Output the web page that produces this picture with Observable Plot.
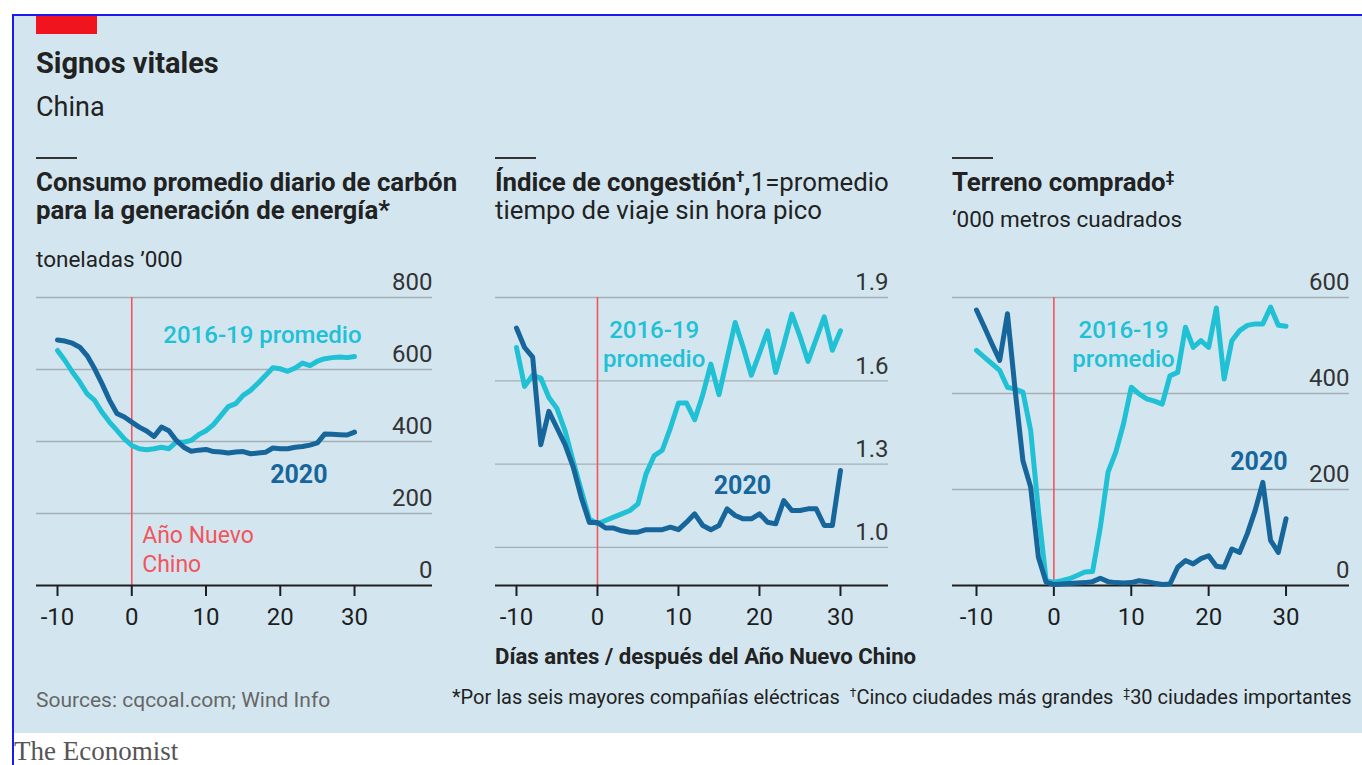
<!DOCTYPE html>
<html><head><meta charset="utf-8">
<script src="https://cdn.jsdelivr.net/npm/d3@7"></script>
<script src="https://cdn.jsdelivr.net/npm/@observablehq/plot@0.6"></script>
<style>
body{margin:0;width:1362px;height:765px;background:#fff;position:relative;overflow:hidden;font-family:Roboto,sans-serif;color:#222;}
.t{position:absolute;white-space:nowrap;line-height:1;}
.rule{position:absolute;height:2px;width:41px;background:#333;}
sup{font-size:0.6em;vertical-align:0.6em;line-height:0;}
</style></head><body>
<div style="position:absolute;left:12px;top:14px;width:1350px;height:751px;border-top:2px solid #1a1aee;border-left:2px solid #1a1aee;"></div>
<div style="position:absolute;left:14px;top:16px;width:1348px;height:717px;background:#d3e6f0;"></div>
<div style="position:absolute;left:36px;top:16px;width:61px;height:18px;background:#f0141e;"></div>
<div class="t" style="left:36px;top:49px;font-size:29px;font-weight:700;">Signos vitales</div>
<div class="t" style="left:36px;top:94px;font-size:27px;">China</div>

<div class="rule" style="left:36px;top:157px;"></div>
<div class="rule" style="left:495px;top:157px;"></div>
<div class="rule" style="left:952px;top:157px;"></div>
<div class="t" style="left:36px;top:168px;font-size:25.8px;line-height:28px;font-weight:700;">Consumo promedio diario de carbón<br>para la generación de energía*</div>
<div class="t" style="left:36px;top:248px;font-size:22.5px;">toneladas ’000</div>
<div class="t" style="left:495px;top:168px;font-size:25.8px;line-height:28px;"><b>Índice de congestión<sup>†</sup>,</b>1=promedio<br>tiempo de viaje sin hora pico</div>
<div class="t" style="left:952px;top:168px;font-size:25.8px;line-height:28px;font-weight:700;">Terreno comprado<sup>‡</sup></div>
<div class="t" style="left:952px;top:208px;font-size:22.5px;">‘000 metros cuadrados</div>

<div class="t" style="left:495px;top:645px;font-size:22.2px;font-weight:700;">Días antes / después del Año Nuevo Chino</div>
<div class="t" style="left:36px;top:690px;font-size:21px;color:#666;">Sources: cqcoal.com; Wind Info</div>
<div class="t" style="left:452px;top:687px;font-size:20px;">*Por las seis mayores compañías eléctricas &nbsp;<sup>†</sup>Cinco ciudades más grandes &nbsp;<sup>‡</sup>30 ciudades importantes</div>
<div class="t" style="left:14px;top:738px;font-size:27px;color:#555;font-family:'Liberation Serif',serif;">The Economist</div>

<script>
// Days before/after Chinese New Year
const days = [-10,-9,-8,-7,-6,-5,-4,-3,-2,-1,0,1,2,3,4,5,6,7,8,9,10,11,12,13,14,15,16,17,18,19,20,21,22,23,24,25,26,27,28,29,30];
const xTicks = [-10, 0, 10, 20, 30];

// Coal consumption, tonnes '000
const coalAvg = [653,625,593,565,532,514,481,454,431,407,389,380,377,380,384,380,398,398,403,419,430,447,472,497,505,528,542,562,583,605,602,595,604,618,611,623,630,633,635,633,636];
const coal2020 = [682,679,673,662,638,602,560,515,478,468,454,440,429,414,440,430,403,384,373,376,378,372,371,368,371,372,366,368,370,382,380,380,384,386,390,396,421,420,419,418,426];
const coalTicks = [0, 200, 400, 600, 800];

// Congestion index
const congAvg = [1.72,1.58,1.62,1.61,1.54,1.50,1.42,1.31,1.205,1.103,1.085,1.097,1.109,1.121,1.133,1.157,1.265,1.33,1.35,1.43,1.52,1.52,1.46,1.55,1.66,1.55,1.68,1.81,1.72,1.62,1.70,1.78,1.63,1.73,1.84,1.76,1.67,1.75,1.83,1.71,1.78];
const cong2020 = [1.79,1.72,1.685,1.37,1.49,1.43,1.37,1.29,1.18,1.09,1.09,1.07,1.07,1.06,1.055,1.055,1.064,1.064,1.064,1.073,1.064,1.091,1.121,1.079,1.064,1.079,1.139,1.115,1.103,1.103,1.121,1.091,1.085,1.169,1.133,1.133,1.139,1.139,1.079,1.079,1.277];
const congTicks = [1.0, 1.3, 1.6, 1.9];

// Land purchased, '000 square metres
const landAvg = [490,476,462,448,413,409,403,323,156,10,7,10,14,21,28,29,121,236,278,337,413,399,389,384,378,437,444,538,496,510,496,578,430,510,531,542,545,545,580,542,540];
const land2020 = [574,539,503,469,566,406,260,205,59,7,2,3,4,5,6,8,15,8,6,5,6,10,8,5,2,3,38,52,45,56,62,40,38,76,69,108,156,215,94,69,139];
const landTicks = [0, 200, 400, 600];

const seriesNames = ["2016-19 promedio", "2020"];
const cyan = "#20c0d5", dark = "#17669b", red = "#f2555c", grid = "#a4afb5", ink = "#1e1e1e";

function drawPanel(o) {
  const rows = days.map((d, i) => ({day: d, value: o.avg[i]}));
  const rows2 = days.map((d, i) => ({day: d, value: o.cur[i]}));
  const marks = [
    Plot.ruleY(o.ticks.filter(t => t > o.yDomain[0] && t !== 0), {stroke: grid, strokeWidth: 1.3}),
    Plot.ruleX([0], {y1: o.yDomain[0], y2: o.yDomain[1], stroke: red, strokeWidth: 1.6}),
    Plot.ruleY([o.yDomain[0]], {stroke: ink, strokeWidth: 2}),
    Plot.text(o.ticks, {y: d => d, text: o.fmt, frameAnchor: "right", textAnchor: "end", dy: -15, fontSize: 24, fill: "#333"}),
    Plot.axisX({ticks: xTicks, tickSize: 11, tickPadding: 11, fontSize: 24, label: null, tickFormat: d => String(d), strokeWidth: 2, color: ink}),
    Plot.line(rows, {x: "day", y: "value", stroke: cyan, strokeWidth: 5, strokeLinejoin: "round", strokeLinecap: "round"}),
    Plot.line(rows2, {x: "day", y: "value", stroke: dark, strokeWidth: 5, strokeLinejoin: "round", strokeLinecap: "round"}),
    Plot.text([o.avgLabel], {x: "x", y: "y", text: d => d.t, fill: cyan, fontSize: 24, fontWeight: 500, lineHeight: 1.2, textAnchor: "middle"}),
    Plot.text([o.curLabel], {x: "x", y: "y", text: () => seriesNames[1], fill: dark, fontSize: 25, fontWeight: 700, textAnchor: "middle"})
  ];
  if (o.cnyLabel) marks.push(Plot.text([o.cnyLabel], {x: "x", y: "y", text: () => "Año Nuevo\nChino", fill: red, fontSize: 23, lineHeight: 1.25, textAnchor: "start"}));
  const p = Plot.plot({
    width: o.width, height: 370,
    marginTop: 32, marginBottom: 50, marginLeft: o.mL, marginRight: o.mR,
    x: {domain: o.xDomain},
    y: {domain: o.yDomain, axis: null},
    style: {background: "transparent", fontFamily: "Roboto, sans-serif", overflow: "visible"},
    marks
  });
  p.style.position = "absolute";
  p.style.left = o.left + "px";
  p.style.top = "265px";
  document.body.appendChild(p);
}

drawPanel({left: 20, width: 440, mL: 16, mR: 28, xDomain: [-12.83, 40.5], yDomain: [0, 800],
  avg: coalAvg, cur: coal2020, ticks: coalTicks, fmt: d => String(d),
  avgLabel: {x: 17.6, y: 700, t: seriesNames[0]}, curLabel: {x: 22.5, y: 308}, cnyLabel: {x: 1.4, y: 103}});
drawPanel({left: 480, width: 420, mL: 15, mR: 12, xDomain: [-12.59, 35.93], yDomain: [0.863, 1.9],
  avg: congAvg, cur: cong2020, ticks: congTicks, fmt: d => d.toFixed(1),
  avgLabel: {x: 7.0, y: 1.736, t: "2016-19\npromedio"}, curLabel: {x: 17.9, y: 1.22}});
drawPanel({left: 935, width: 425, mL: 17, mR: 11, xDomain: [-13.1, 38.2], yDomain: [0, 600],
  avg: landAvg, cur: land2020, ticks: landTicks, fmt: d => String(d),
  avgLabel: {x: 9.0, y: 505, t: "2016-19\npromedio"}, curLabel: {x: 26.5, y: 258}});
</script>
</body></html>
